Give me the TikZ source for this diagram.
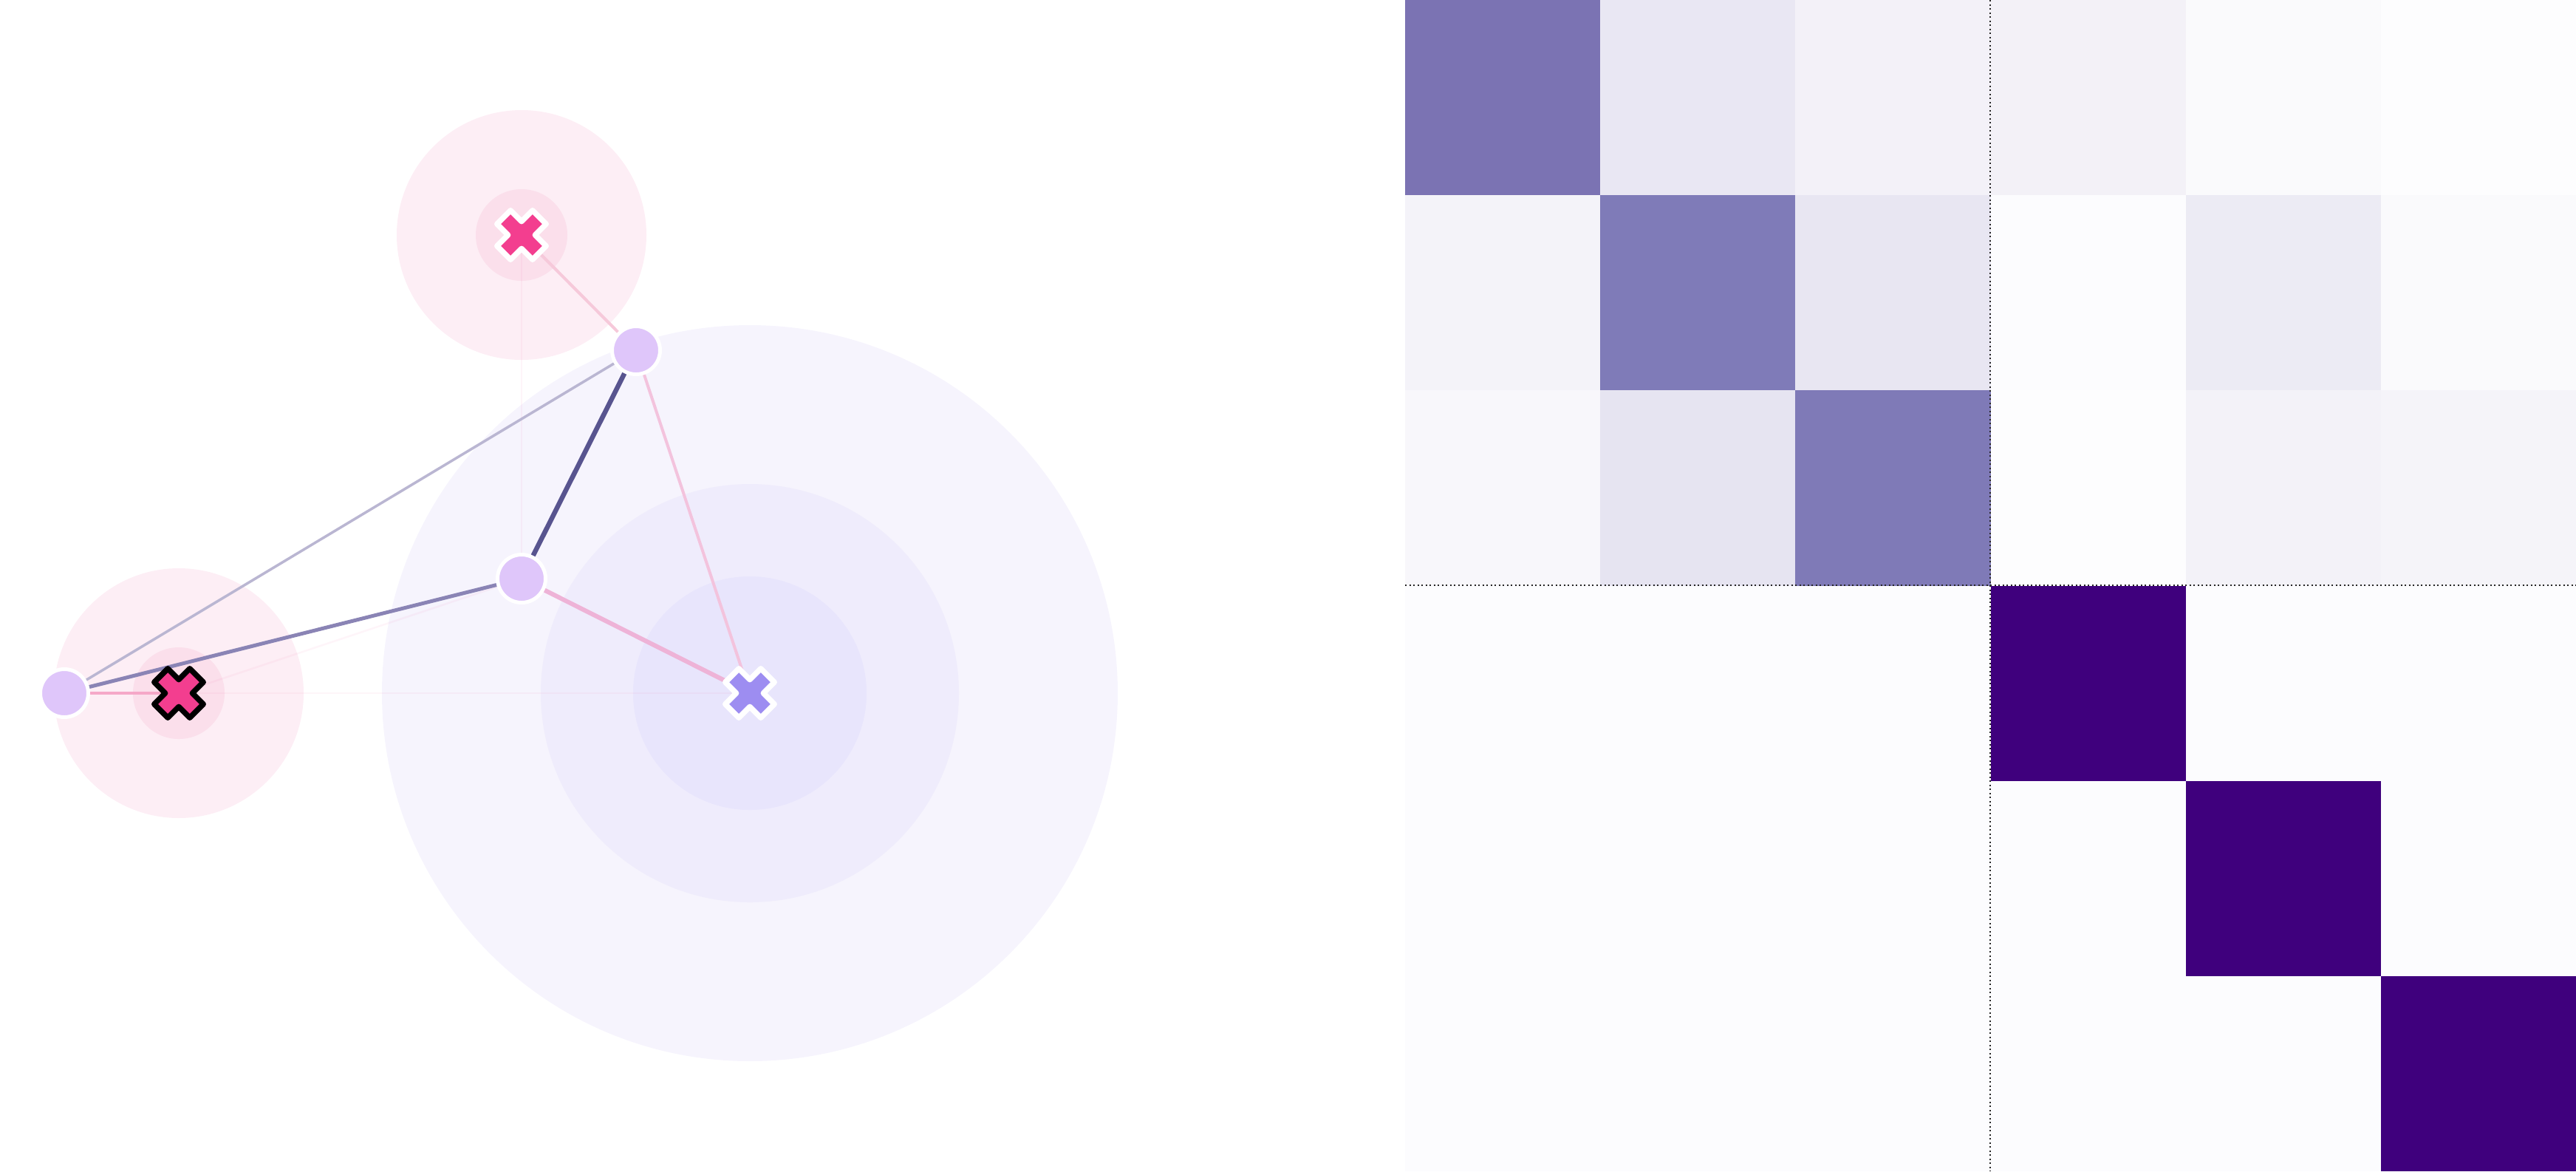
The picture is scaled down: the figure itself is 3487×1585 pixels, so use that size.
\documentclass[tikz,border=0pt]{standalone}
\usepackage{xcolor}

\definecolor{lav}{HTML}{DFC6FA}
\definecolor{hotpink}{HTML}{F33E8F}
\definecolor{violet}{HTML}{9D8DF1}
\definecolor{pinkhaloout}{HTML}{FDEEF5}
\definecolor{pinkhaloin}{HTML}{FBDFEB}
\definecolor{purphaloout}{HTML}{F6F4FD}
\definecolor{purphalomid}{HTML}{EFECFC}
\definecolor{purphaloin}{HTML}{E8E5FC}
\definecolor{offcell}{HTML}{FCFCFE}
\definecolor{diagdark}{HTML}{3F007D}

\tikzset{
  pt/.style={circle,fill=lav,draw=white,line width=0.5mm,minimum size=6.5mm,inner sep=0pt},
  xmark/.pic={
    \path[pic actions,rotate=45] (13,34) -- (13,13) -- (34,13) -- (34,-13) -- (13,-13)
      -- (13,-34) -- (-13,-34) -- (-13,-13) -- (-34,-13) -- (-34,13) -- (-13,13)
      -- (-13,34) -- cycle;
  },
  faint/.style={line width=0.25mm,color=hotpink,opacity=0.05},
  sep/.style={line width=0.2mm,color=black!85,dash pattern=on 0.2mm off 0.35mm}
}

\begin{document}
\begin{tikzpicture}[x=0.1mm,y=-0.1mm]
  \useasboundingbox (0,0) rectangle (3487,1585);

  % halos
  \fill[purphaloout] (1015,938) circle (49.8mm);
  \fill[purphalomid] (1015,938) circle (28.3mm);
  \fill[purphaloin] (1015,938) circle (15.8mm);
  \fill[pinkhaloout] (242,938) circle (16.9mm);
  \fill[pinkhaloin] (242,938) circle (6.2mm);
  \fill[pinkhaloout] (706,318) circle (16.9mm);
  \fill[pinkhaloin] (706,318) circle (6.2mm);

  % points and centres
  \node[pt] (a) at (87,938) {};
  \node[pt] (b) at (706,783) {};
  \node[pt] (c) at (861,474) {};
  \coordinate (xa) at (242,938);
  \coordinate (xb) at (706,318);
  \coordinate (xc) at (1015,938);

  % links
  \draw[faint] (a) -- (xc);
  \draw[faint] (b) -- (xa);
  \draw[faint] (b) -- (xb);
  \draw[line width=0.35mm,color={rgb,255:red,186;green,182;blue,210}] (a) -- (c);
  \draw[line width=0.5mm,color={rgb,255:red,138;green,132;blue,181}] (a) -- (b);
  \draw[line width=0.65mm,color={rgb,255:red,88;green,84;blue,143}] (b) -- (c);
  \draw[line width=0.4mm,color={rgb,255:red,246;green,201;blue,218}] (c) -- (xb);
  \draw[line width=0.4mm,color={rgb,255:red,243;green,195;blue,221}] (c) -- (xc);
  \draw[line width=0.6mm,color={rgb,255:red,238;green,179;blue,215}] (b) -- (xc);
  \draw[line width=0.4mm,color={rgb,255:red,245;green,168;blue,200}] (a) -- (xa);

  % centres
  \pic[draw=black,fill=hotpink,line width=0.75mm,line join=round] at (xa) {xmark};
  \pic[draw=white,fill=hotpink,line width=0.75mm,line join=round] at (xb) {xmark};
  \pic[draw=white,fill=violet,line width=0.75mm,line join=round] at (xc) {xmark};

  % matrix
  \def\cs{264.1667}
  \fill[offcell] (1902,0) rectangle (3487,1585);
  \foreach \r/\k/\hex in {0/0/7B73B3,0/1/E9E7F3,0/2/F3F1F8,0/3/F3F1F7,0/4/FAFAFC,0/5/FDFDFE,
                          1/0/F4F3F9,1/1/7F7BB8,1/2/E8E6F2,1/3/FCFCFE,1/4/ECEBF4,1/5/FAFAFC,
                          2/0/F8F7FB,2/1/E6E4F1,2/2/7F7AB7,2/3/FDFDFE,2/4/F3F2F8,2/5/F5F4F9}{
    \definecolor{cellc}{HTML}{\hex}
    \fill[cellc] ({1902+\k*\cs},{\r*\cs}) rectangle ++(\cs,\cs);
  }
  \foreach \k in {3,4,5}
    \fill[diagdark] ({1902+\k*\cs},{\k*\cs}) rectangle ++(\cs,\cs);
  \draw[sep] (1902,792) -- (3487,792);
  \draw[sep] (2694,0) -- (2694,1585);
\end{tikzpicture}
\end{document}
